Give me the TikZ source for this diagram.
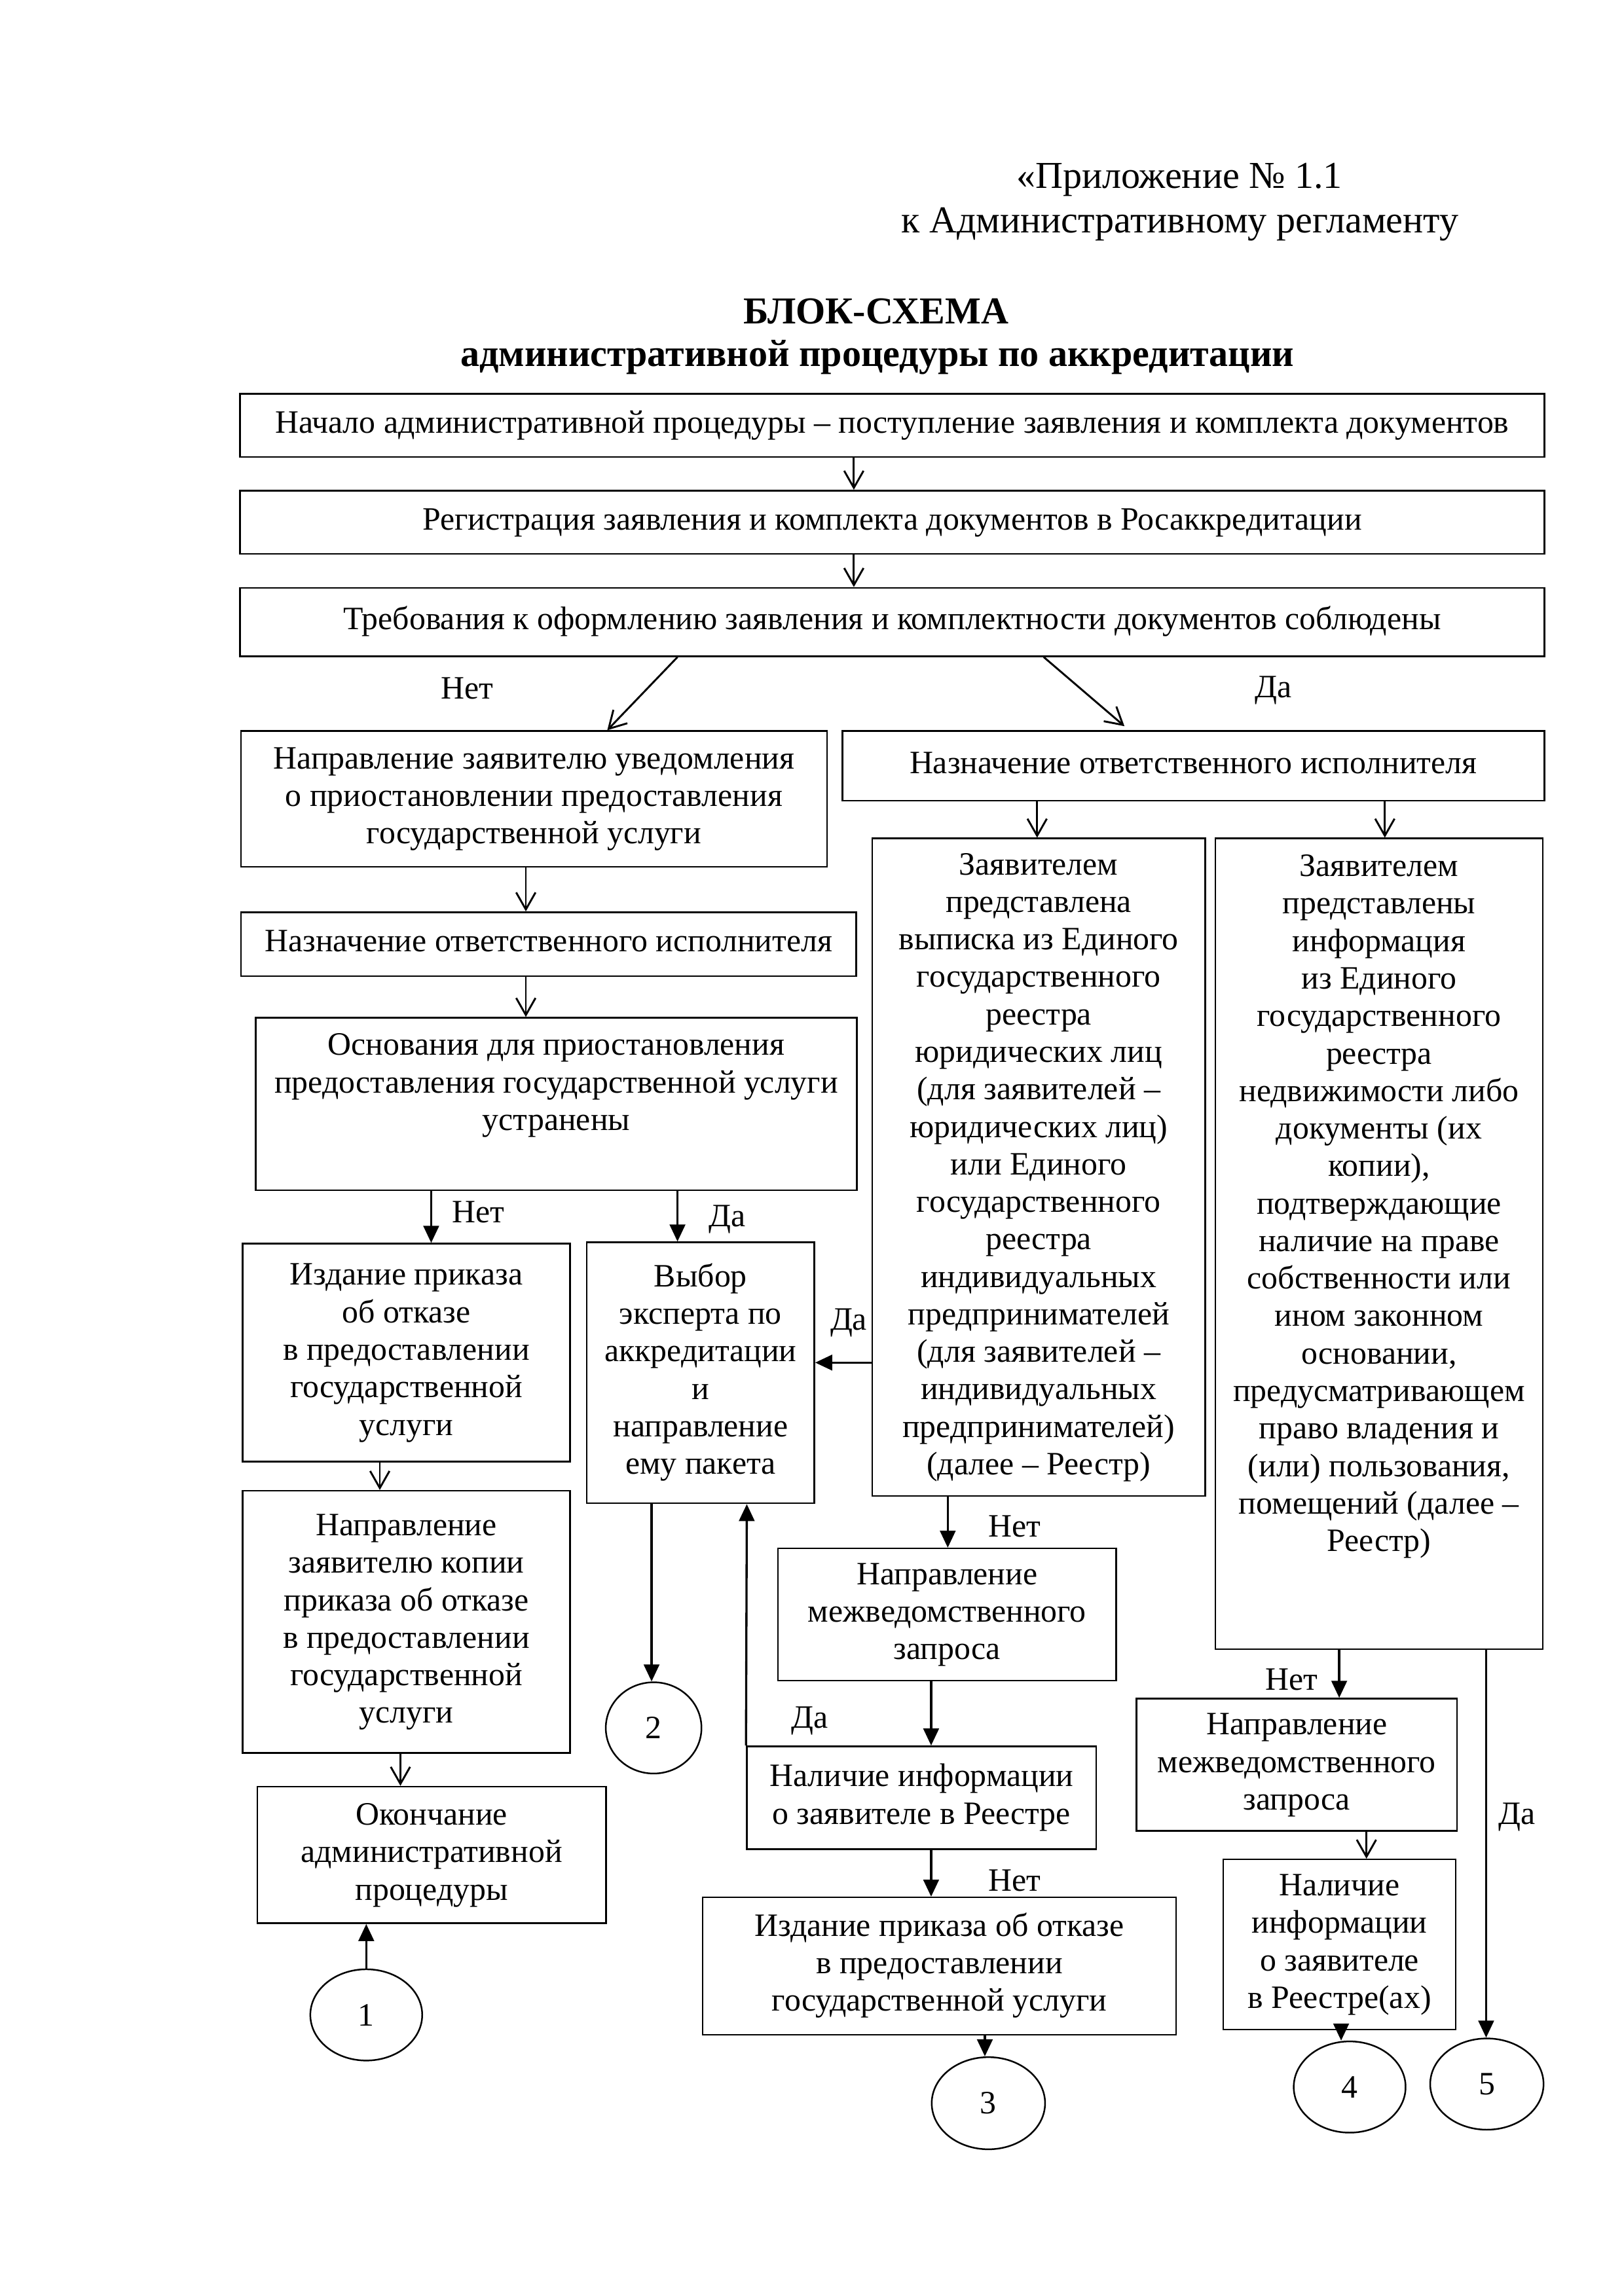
\documentclass[tikz,border=0pt]{standalone}
\usepackage{fontspec}
\setmainfont{Liberation Serif}
\usetikzlibrary{arrows.meta,shapes.geometric}
\newlength\ux
\setlength\ux{0.19039mm}
\newcommand\bxt[1]{\begin{tabular}{@{}c@{}}#1\end{tabular}}
\begin{document}
\begin{tikzpicture}[x=0.19039mm, y=-0.19038mm,
  corners/.style n args={4}{at={({(#1+#3)/2},{(#2+#4)/2})}, minimum width={(#3-#1)*\ux}, minimum height={(#4-#2)*\ux}},
  box/.style={draw, line width=0.6pt, inner sep=0pt, font=\fontsize{12}{13.8}\selectfont},
  circ/.style={draw, ellipse, line width=0.6pt, inner sep=0pt, font=\fontsize{12}{13.8}\selectfont},
  lbl/.style={font=\fontsize{12}{13.8}\selectfont, inner sep=0pt},
  oarr/.style={line width=0.7pt, -{Straight Barb[length=2.2mm,width=2.5mm]}},
  farr/.style={line width=0.8pt, -{Triangle[length=2.2mm,width=2mm]}},
  hdr/.style={font=\fontsize{14}{16}\selectfont, inner sep=0pt},
  ttl/.style={font=\fontsize{14}{16}\selectfont\bfseries, inner sep=0pt, anchor=base}
]
\useasboundingbox (0,0) rectangle (1103,1560);

% header
\node[hdr, anchor=base west] (h1) at (690,128) {«Приложение № 1.1};
\node[hdr, anchor=base west] (h2) at (612,158) {к Административному регламенту};
\node[ttl] (t1) at (595,220) {БЛОК-СХЕМА};
\node[ttl] (t2) at (596,249) {административной процедуры по аккредитации};

% boxes
\node[box, corners={163}{267.5}{1049}{310.6}] (b1) {\bxt{Начало административной процедуры – поступление заявления и комплекта документов}};
\node[box, corners={163}{333.3}{1049}{376.4}] (b2) {\bxt{Регистрация заявления и комплекта документов в Росаккредитации}};
\node[box, corners={163}{399.4}{1049}{445.9}] (b3) {\bxt{Требования к оформлению заявления и комплектности документов соблюдены}};
\node[box, corners={163.8}{496.7}{561.7}{588.9}] (b4) {\bxt{Направление заявителю уведомления\\о приостановлении предоставления\\государственной услуги}};
\node[box, corners={572.2}{496.7}{1049}{544}] (b5) {\bxt{Назначение ответственного исполнителя}};
\node[box, corners={163.8}{619.8}{581.6}{663.2}] (b6) {\bxt{Назначение ответственного исполнителя}};
\node[box, corners={173.7}{691.5}{582.1}{808.7}] (b7) {\bxt{Основания для приостановления\\предоставления государственной услуги\\устранены\\ \\}};
\node[box, corners={164.7}{845}{387.3}{993}] (b8) {\bxt{Издание приказа\\об отказе\\в предоставлении\\государственной\\услуги}};
\node[box, corners={398.6}{844.1}{553.2}{1021.4}] (b9) {\bxt{Выбор\\эксперта по\\аккредитации\\и\\направление\\ему пакета}};
\node[box, corners={164.7}{1012.9}{387.3}{1191}] (b10) {\bxt{Направление\\заявителю копии\\приказа об отказе\\в предоставлении\\государственной\\услуги}};
\node[box, corners={174.7}{1213.9}{411.6}{1306.7}] (b11) {\bxt{Окончание\\административной\\процедуры}};
\node[box, corners={592.5}{569.7}{818.6}{1016.4}] (b12) {\bxt{Заявителем\\представлена\\выписка из Единого\\государственного\\реестра\\юридических лиц\\(для заявителей –\\юридических лиц)\\или Единого\\государственного\\реестра\\индивидуальных\\предпринимателей\\(для заявителей –\\индивидуальных\\предпринимателей)\\(далее – Реестр)}};
\node[box, corners={825.5}{569.7}{1048}{1120.6}] (b13) {\bxt{Заявителем\\представлены\\информация\\из Единого\\государственного\\реестра\\недвижимости либо\\документы (их\\копии),\\подтверждающие\\наличие на праве\\собственности или\\ином законном\\основании,\\предусматривающем\\право владения и\\(или) пользования,\\помещений (далее –\\Реестр)\\ \\ \\}};
\node[box, corners={528.5}{1052.1}{758.1}{1141.8}] (b14) {\bxt{Направление\\межведомственного\\запроса}};
\node[box, corners={507.3}{1186.5}{744.7}{1256.5}] (b15) {\bxt{Наличие информации\\о заявителе в Реестре}};
\node[box, corners={477.2}{1289.2}{799}{1382.6}] (b16) {\bxt{Издание приказа об отказе\\в предоставлении\\государственной услуги}};
\node[box, corners={772}{1154.1}{989.7}{1244}] (b17) {\bxt{Направление\\межведомственного\\запроса}};
\node[box, corners={831}{1263.4}{988.8}{1378.9}] (b18) {\bxt{Наличие\\информации\\о заявителе\\в Реестре(ах)}};

% connector circles
\node[circ, minimum width=76\ux, minimum height=62\ux] (c1) at (248.8,1369) {1};
\node[circ, minimum width=65\ux, minimum height=62\ux] (c2) at (444,1174) {2};
\node[circ, minimum width=77\ux, minimum height=62.6\ux] (c3) at (671.4,1429) {3};
\node[circ, minimum width=76\ux, minimum height=62\ux] (c4) at (916.8,1418) {4};
\node[circ, minimum width=77\ux, minimum height=62\ux] (c5) at (1010,1416) {5};

% labels
\node[lbl] (l1) at (317.5,467.5) {Нет};
\node[lbl] (l2) at (865,469) {Да};
\node[lbl] (l3) at (325,823.7) {Нет};
\node[lbl] (l4) at (494.2,828.5) {Да};
\node[lbl] (l5) at (576.5,898.6) {Да};
\node[lbl] (l6) at (689.2,1037) {Нет};
\node[lbl] (l7) at (550,1169) {Да};
\node[lbl] (l8) at (689.2,1277.5) {Нет};
\node[lbl] (l9) at (877.2,1141) {Нет};
\node[lbl] (l10) at (1030.5,1234.4) {Да};

% connectors
\draw[oarr] (580,0 |- b1.south) -- (580,0 |- b2.north);
\draw[oarr] (580,0 |- b2.south) -- (580,0 |- b3.north);
\draw[oarr] (460.2,0 |- b3.south) -- (412.5,0 |- b4.north);
\draw[oarr, shorten >=0.8mm] (709,0 |- b3.south) -- (767,0 |- b5.north);
\draw[oarr] (357.2,0 |- b4.south) -- (357.2,0 |- b6.north);
\draw[oarr] (357.2,0 |- b6.south) -- (357.2,0 |- b7.north);
\draw[farr] (292.9,0 |- b7.south) -- (292.9,0 |- b8.north);
\draw[farr] (460.2,0 |- b7.south) -- (460.2,0 |- b9.north);
\draw[oarr] (258,0 |- b8.south) -- (258,0 |- b10.north);
\draw[oarr] (272,0 |- b10.south) -- (272,0 |- b11.north);
\draw[farr] (c1.north) -- (248.8,0 |- b11.south);
\draw[farr] (442.6,0 |- b9.south) -- (442.6,0 |- c2.north);
\draw[farr] (b15.north west) -- (507.3,0 |- b9.south);
\draw[oarr] (704.5,0 |- b5.south) -- (704.5,0 |- b12.north);
\draw[oarr] (940.7,0 |- b5.south) -- (940.7,0 |- b13.north);
\draw[farr] (b12.west |- 0,925.8) -- (b9.east |- 0,925.8);
\draw[farr] (643.8,0 |- b12.south) -- (643.8,0 |- b14.north);
\draw[farr] (632.5,0 |- b14.south) -- (632.5,0 |- b15.north);
\draw[farr] (632.5,0 |- b15.south) -- (632.5,0 |- b16.north);
\draw[farr] (669,0 |- b16.south) -- (669,0 |- c3.north);
\draw[farr] (909.7,0 |- b13.south) -- (909.7,0 |- b17.north);
\draw[oarr] (928.2,0 |- b17.south) -- (928.2,0 |- b18.north);
\draw[farr] (911,0 |- b18.south) -- (911,0 |- c4.north);
\draw[farr] (1009.5,0 |- b13.south) -- (1009.5,0 |- c5.north);
\end{tikzpicture}
\end{document}
